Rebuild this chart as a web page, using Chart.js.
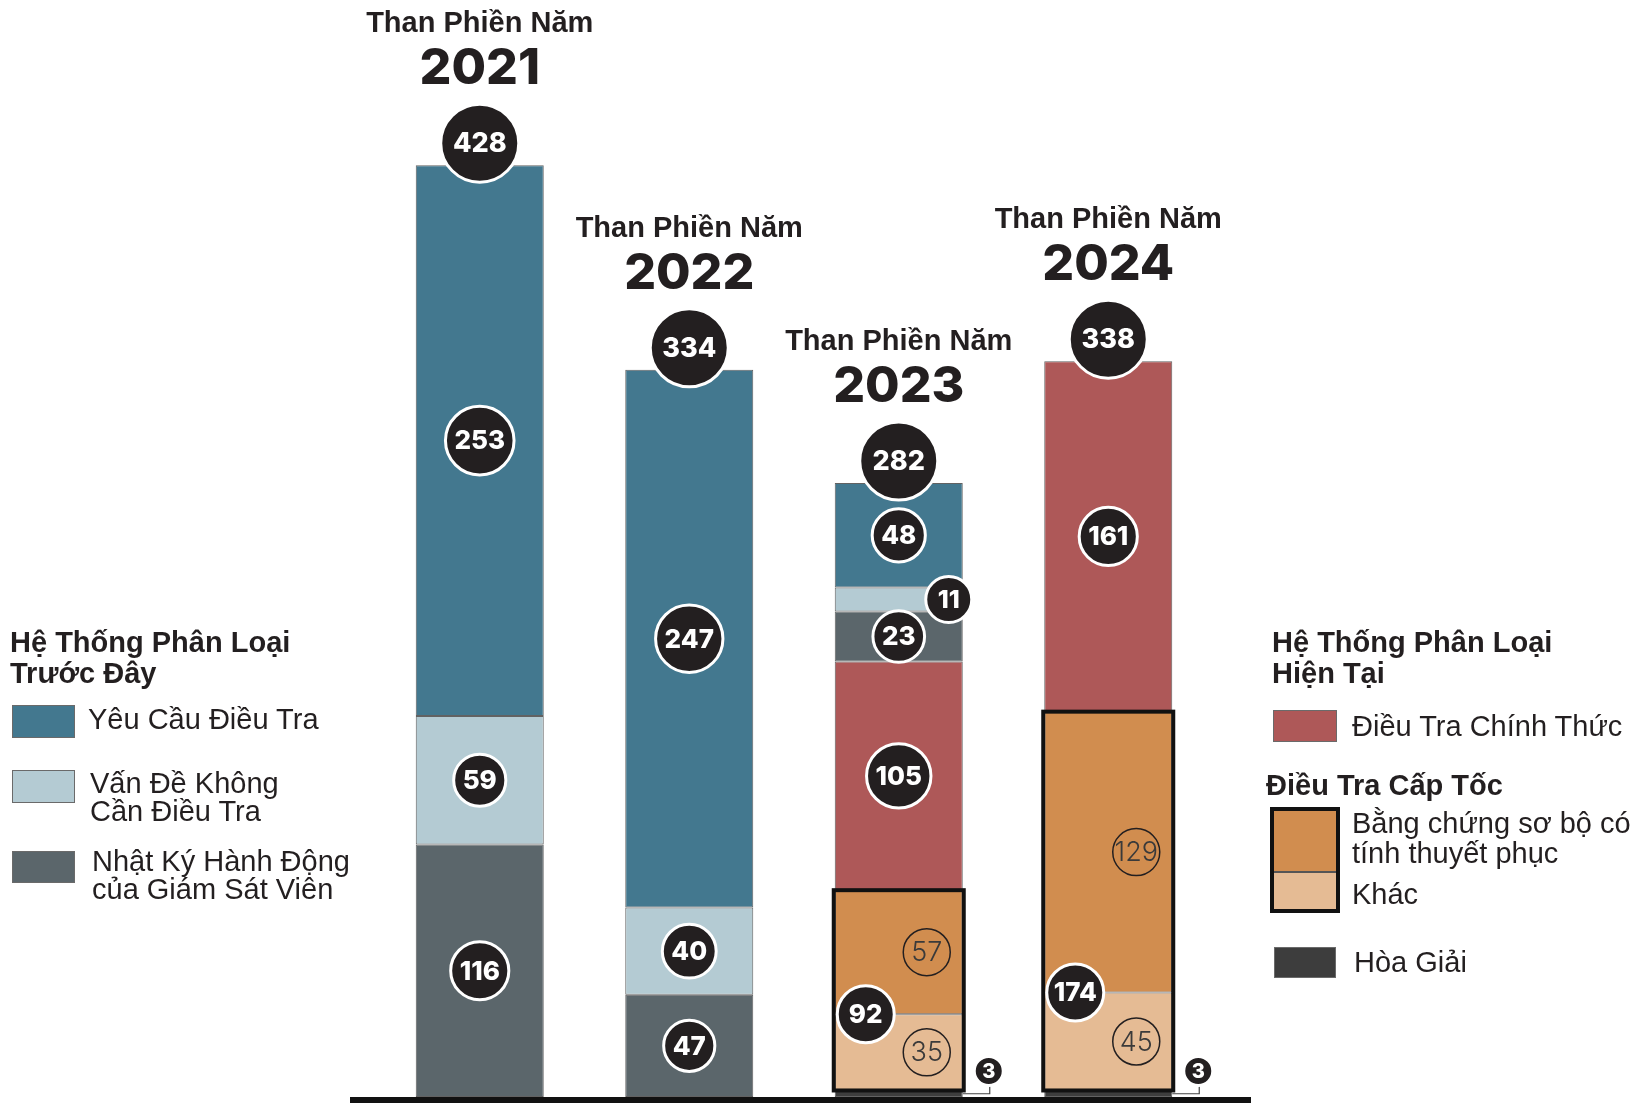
<!DOCTYPE html>
<html><head><meta charset="utf-8">
<script src="https://cdn.jsdelivr.net/npm/chart.js@4"></script>
<style>
html,body{margin:0;padding:0;background:#fff;}
#wrap{position:relative;width:1637px;height:1105px;overflow:hidden;background:#fff;}
canvas{position:absolute;left:0;top:0;}
.lg{position:absolute;font-family:"Liberation Sans",Arial,sans-serif;color:#231f20;font-size:29px;line-height:29px;white-space:nowrap;}
.b{font-weight:bold;line-height:31px;}
.sw{position:absolute;box-sizing:border-box;border:1px solid #6a6a6a;}
</style></head>
<body><div id="wrap"><canvas id="c" width="1637" height="1105" style="width:1637px;height:1105px"></canvas>

<div class="lg b" style="left:10px;top:627px">Hệ Thống Phân Loại<br>Trước Đây</div>
<div class="sw" style="left:12px;top:705px;width:63px;height:33px;background:#43788f"></div>
<div class="lg" style="left:88px;top:705px">Yêu Cầu Điều Tra</div>
<div class="sw" style="left:12px;top:770px;width:63px;height:33px;background:#b4cbd3"></div>
<div class="lg" style="left:90px;top:769px;line-height:28px">Vấn Đề Không<br>Cần Điều Tra</div>
<div class="sw" style="left:12px;top:851px;width:63px;height:32px;background:#5b666b"></div>
<div class="lg" style="left:92px;top:847px;line-height:28px">Nhật Ký Hành Động<br>của Giám Sát Viên</div>

<div class="lg b" style="left:1272px;top:627px">Hệ Thống Phân Loại<br>Hiện Tại</div>
<div class="sw" style="left:1273px;top:710px;width:64px;height:32px;background:#ae5858"></div>
<div class="lg" style="left:1352px;top:712px">Điều Tra Chính Thức</div>
<div class="lg b" style="left:1266px;top:770px">Điều Tra Cấp Tốc</div>
<div style="position:absolute;left:1270px;top:807px;width:70px;height:106px;box-sizing:border-box;border:4px solid #111;background:#e5bb94">
  <div style="position:absolute;left:0;top:0;width:62px;height:60px;background:#d18d4f;border-bottom:2px solid #555"></div>
</div>
<div class="lg" style="left:1352px;top:808px;line-height:30px">Bằng chứng sơ bộ có<br>tính thuyết phục</div>
<div class="lg" style="left:1352px;top:880px">Khác</div>
<div class="sw" style="left:1274px;top:947px;width:62px;height:31px;background:#3d3d3d"></div>
<div class="lg" style="left:1354px;top:948px">Hòa Giải</div>
</div>
<script>
const years = ["2021", "2022", "2023", "2024"];
const titlePrefix = "Than Phiền Năm";
const totals = [428, 334, 282, 338];
const hoaGiai = [0, 0, 3, 3];
const khac = [0, 0, 35, 45];
const bangChung = [0, 0, 57, 129];
const chinhThuc = [0, 0, 105, 161];
const nhatKy = [116, 47, 23, 0];
const vanDe = [59, 40, 11, 0];
const yeuCau = [253, 247, 48, 0];

const INK = '#231f20';
const series = [
  {label: 'Hòa Giải', data: hoaGiai, color: '#3d3d3d'},
  {label: 'Khác', data: khac, color: '#e5bb94'},
  {label: 'Bằng chứng sơ bộ có tính thuyết phục', data: bangChung, color: '#d18d4f'},
  {label: 'Điều Tra Chính Thức', data: chinhThuc, color: '#ae5858'},
  {label: 'Nhật Ký Hành Động của Giám Sát Viên', data: nhatKy, color: '#5b666b'},
  {label: 'Vấn Đề Không Cần Điều Tra', data: vanDe, color: '#b4cbd3'},
  {label: 'Yêu Cầu Điều Tra', data: yeuCau, color: '#43788f'}
];

function filledCircle(ctx, x, y, r, text, fs) {
  ctx.beginPath(); ctx.arc(x, y, r, 0, Math.PI * 2);
  ctx.fillStyle = INK; ctx.fill();
  ctx.lineWidth = 3; ctx.strokeStyle = '#fff'; ctx.stroke();
  ctx.fillStyle = '#fff'; ctx.font = '800 ' + fs + 'px Inter, "Open Sans", sans-serif';
  ctx.textAlign = 'center'; ctx.textBaseline = 'middle';
  ctx.fillText(text, x, y + 1);
}
function autoCircle(ctx, x, y, text, fs) {
  ctx.font = '800 ' + fs + 'px Inter, "Open Sans", sans-serif';
  const w = ctx.measureText(text).width;
  filledCircle(ctx, x, y, Math.max(21, w / 2 + 9), text, fs);
}
function openCircle(ctx, x, y, r, text) {
  ctx.beginPath(); ctx.arc(x, y, r, 0, Math.PI * 2);
  ctx.lineWidth = 1.5; ctx.strokeStyle = INK; ctx.stroke();
  ctx.fillStyle = '#3a3a3a'; ctx.font = '300 27px Inter, "Open Sans", sans-serif';
  ctx.textAlign = 'center'; ctx.textBaseline = 'middle';
  ctx.fillText(text, x, y + 1);
}

const annot = {
  id: 'annot',
  afterDatasetsDraw(chart) {
    const ctx = chart.ctx, ys = chart.scales.y, xs = chart.scales.x;
    ctx.save();
    years.forEach((yr, j) => {
      if (khac[j] + bangChung[j] <= 0) return;
      const el = chart.getDatasetMeta(1).data[j];
      const top = ys.getPixelForValue(hoaGiai[j] + khac[j] + bangChung[j]);
      const bot = ys.getPixelForValue(hoaGiai[j]);
      ctx.lineWidth = 4; ctx.strokeStyle = '#111';
      ctx.strokeRect(el.x - el.width / 2 - 1, top, el.width + 2, bot - top);
    });
    const base = ys.getPixelForValue(0);
    ctx.fillStyle = '#111';
    ctx.fillRect(xs.left - 25, base, xs.right - xs.left + 63, 6);

    years.forEach((yr, j) => {
      const el0 = chart.getDatasetMeta(6).data[j];
      const cx = el0.x, w = el0.width;
      const left = cx - w / 2, right = cx + w / 2;
      const mid = (lo, hi) => (ys.getPixelForValue(lo) + ys.getPixelForValue(hi)) / 2;
      let cum = 0;
      series.forEach((s, i) => {
        const v = s.data[j];
        const lo = cum, hi = cum + v; cum = hi;
        if (!v) return;
        const my = mid(lo, hi);
        if (i === 0) {
          const bx = right + 26, by = base - 26;
          ctx.beginPath(); ctx.lineWidth = 1.2; ctx.strokeStyle = '#444';
          ctx.moveTo(right, my); ctx.lineTo(bx + 1, my); ctx.lineTo(bx + 1, by + 14); ctx.stroke();
          filledCircle(ctx, bx, by, 14.5, String(v), 20);
        } else if (i === 1 || i === 2) {
          openCircle(ctx, cx + 28, my, 23.5, String(v));
        } else if (i === 5 && v < 20) {
          filledCircle(ctx, right - 14, my, 23, String(v), 25);
        } else {
          autoCircle(ctx, cx, my, String(v), 26);
        }
      });
      const exp = khac[j] + bangChung[j];
      if (exp > 0) {
        filledCircle(ctx, left + 31, ys.getPixelForValue(hoaGiai[j] + khac[j]), 28.5, String(exp), 26);
      }
      const topY = ys.getPixelForValue(totals[j]);
      const tc = topY - 22;
      filledCircle(ctx, cx, tc, 39, String(totals[j]), 27);
      ctx.fillStyle = INK; ctx.textAlign = 'center'; ctx.textBaseline = 'middle';
      ctx.font = '800 50px Inter, "Open Sans", sans-serif';
      ctx.fillText(yr, cx, tc - 74);
      ctx.font = 'bold 29px "Liberation Sans", Arial, sans-serif';
      ctx.fillText(titlePrefix, cx, tc - 119);
    });
    ctx.restore();
  }
};

new Chart(document.getElementById('c'), {
  type: 'bar',
  data: {
    labels: years,
    datasets: series.map(s => ({
      label: s.label, data: s.data, backgroundColor: s.color,
      borderColor: 'rgba(70,70,70,0.85)',
      borderWidth: c => (c.raw ? 1 : 0),
      borderSkipped: false
    }))
  },
  options: {
    responsive: false, animation: false, devicePixelRatio: 1,
    layout: {padding: {left: 375, right: 424, top: 52, bottom: 8}},
    plugins: {legend: {display: false}, tooltip: {enabled: false}},
    datasets: {bar: {categoryPercentage: 1, barPercentage: 0.611}},
    scales: {
      x: {stacked: true, display: false},
      y: {stacked: true, display: false, min: 0, max: 480}
    }
  },
  plugins: [annot]
});
</script>
</body></html>
